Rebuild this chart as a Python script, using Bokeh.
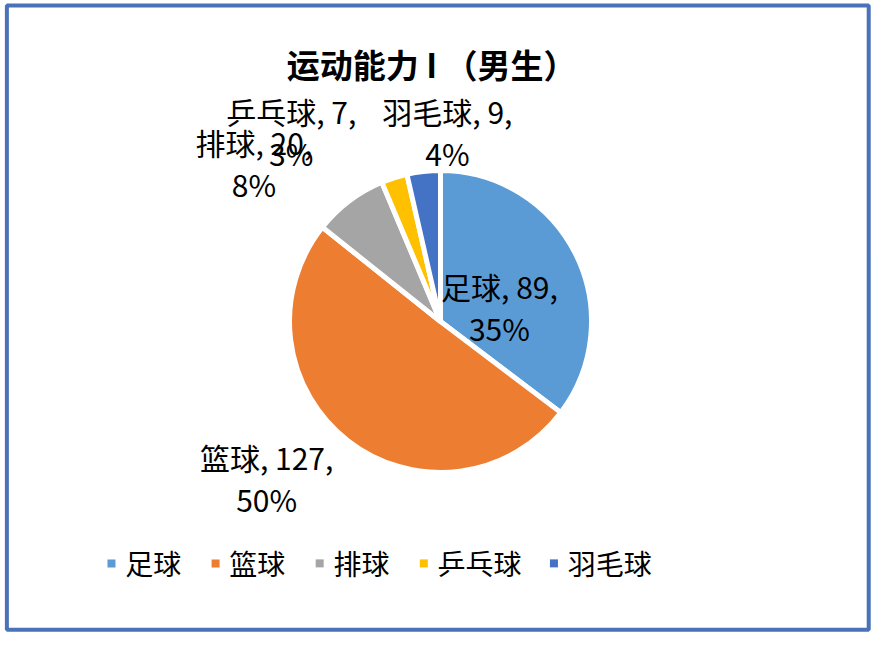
import math
from bokeh.plotting import figure
from bokeh.models import Range1d, ColumnDataSource
from bokeh.core.properties import value
from bokeh.embed import file_html
from bokeh.resources import INLINE

# ---- data ----
categories = ["足球", "篮球", "排球", "乒乓球", "羽毛球"]
counts = [89, 127, 20, 7, 9]
colors = ["#5B9BD5", "#ED7D31", "#A5A5A5", "#FFC000", "#4472C4"]
title_text = "运动能力 I （男生）"

# ---- layout ----
W, H = 880, 638
FONT = "Noto Sans CJK SC"
SX, SY = W / 896, H / 654

def px(x):  # reference-image x -> data x
    return x * SX

def py(y):  # reference-image y -> data y
    return H - y * SY

cx, cy, R = px(448), py(329), 151

p = figure(width=W, height=H, output_backend="svg", toolbar_location=None,
           x_range=Range1d(0, W), y_range=Range1d(0, H), min_border=0)
p.axis.visible = False
p.grid.visible = False
p.outline_line_color = None
p.background_fill_color = "white"
p.border_fill_color = "white"

# outer frame
p.quad(left=[px(6.5)], right=[px(884)], bottom=[py(645)], top=[py(5)],
       fill_color=None, line_color="#4A72B8", line_width=4)

# wedges (clockwise from 12 o'clock)
total = sum(counts)
starts, ends, pcts = [], [], []
a = math.pi / 2
for c in counts:
    sweep = c / total * 2 * math.pi
    starts.append(a)
    ends.append(a - sweep)
    pcts.append(round(c / total * 100))
    a -= sweep

src = ColumnDataSource(dict(start=starts, end=ends, color=colors))
p.wedge(x=cx, y=cy, radius=R, start_angle="start", end_angle="end",
        direction="clock", fill_color="color", line_color="white",
        line_width=5, source=src)

# data labels (layout: first-line centres in reference pixels)
lbl_img_x = [508, 271, 258, 296, 455]
lbl_img_y = [293, 468, 145, 113, 113]
line_gap = 43
line1 = [f"{n}, {v}," for n, v in zip(categories, counts)]
line2 = [f"{q}%" for q in pcts]
p.text(x=[px(v) for v in lbl_img_x], y=[py(v) for v in lbl_img_y], text=line1,
       text_font=value(FONT), text_font_size="30px", text_color="black",
       text_align="center", text_baseline="middle")
p.text(x=[px(v) for v in lbl_img_x], y=[py(v + line_gap) for v in lbl_img_y], text=line2,
       text_font=value(FONT), text_font_size="30px", text_color="black",
       text_align="center", text_baseline="middle")

# title
p.text(x=[px(439)], y=[py(65)], text=[title_text], text_font=value(FONT),
       text_font_size="33px", text_font_style="bold", text_color="black",
       text_align="center", text_baseline="middle")

# legend (manual)
adv = 26.5
sq_x, tx_x = [], []
x = 113
for n in categories:
    sq_x.append(x)
    tx_x.append(x + 14)
    x = x + 16 + len(n) * adv + 37
leg_y = py(577)
p.scatter(x=[px(v) for v in sq_x], y=[leg_y] * len(categories), marker="square",
          size=8, fill_color=colors, line_color=None)
p.text(x=[px(v) for v in tx_x], y=[leg_y] * len(categories), text=categories,
       text_font=value(FONT), text_font_size="28px", text_color="black",
       text_align="left", text_baseline="middle")

open("out.html", "w").write(file_html(p, INLINE))
